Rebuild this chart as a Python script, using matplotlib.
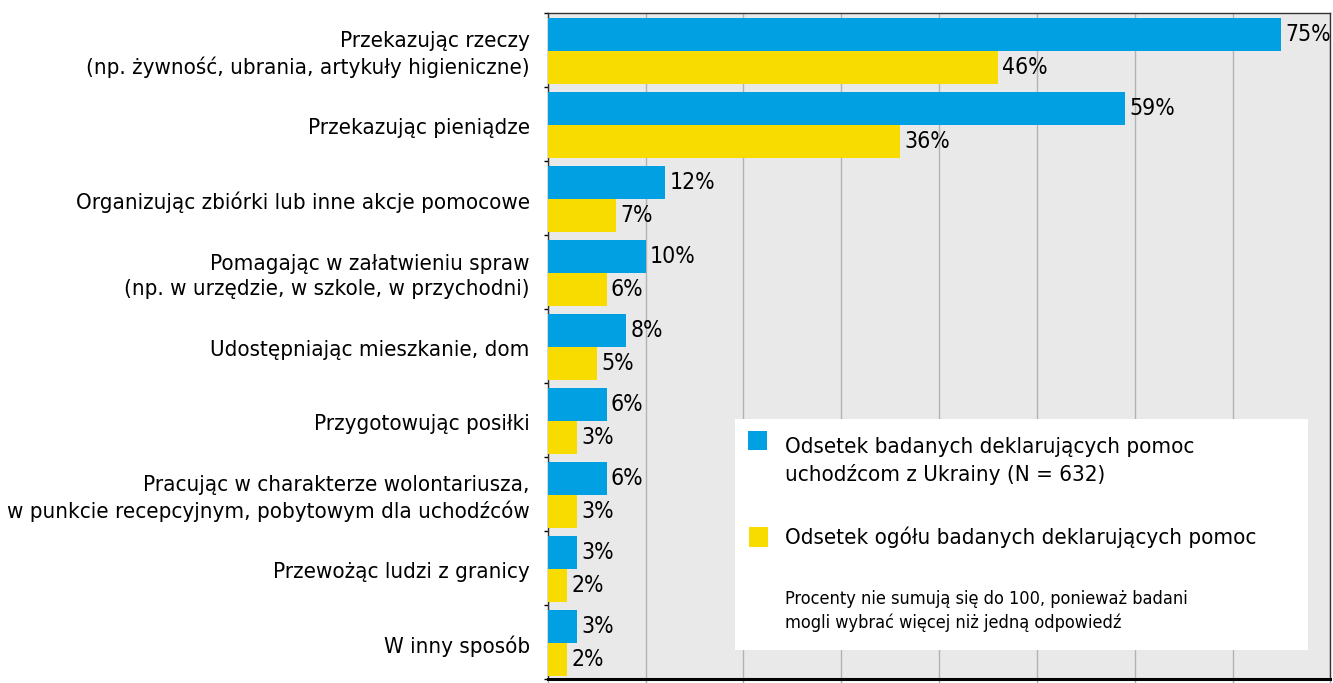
import matplotlib

matplotlib.use("Agg")
import matplotlib.pyplot as plt
from matplotlib.patches import Rectangle
from matplotlib.transforms import blended_transform_factory

plt.rcParams["font.family"] = ["DejaVu Sans"]
plt.rcParams["font.stretch"] = "condensed"

categories = [
    "Przekazując rzeczy\n(np. żywność, ubrania, artykuły higieniczne)",
    "Przekazując pieniądze",
    "Organizując zbiórki lub inne akcje pomocowe",
    "Pomagając w załatwieniu spraw\n(np. w urzędzie, w szkole, w przychodni)",
    "Udostępniając mieszkanie, dom",
    "Przygotowując posiłki",
    "Pracując w charakterze wolontariusza,\nw punkcie recepcyjnym, pobytowym dla uchodźców",
    "Przewożąc ludzi z granicy",
    "W inny sposób",
]
ukraine_helpers = [75, 59, 12, 10, 8, 6, 6, 3, 3]
all_respondents = [46, 36, 7, 6, 5, 3, 3, 2, 2]

legend_labels = [
    "Odsetek badanych deklarujących pomoc\nuchodźcom z Ukrainy (N = 632)",
    "Odsetek ogółu badanych deklarujących pomoc",
]
note = "Procenty nie sumują się do 100, ponieważ badani\nmogli wybrać więcej niż jedną odpowiedź"

BLUE = "#00a0e2"
YELLOW = "#f8dc00"

fig = plt.figure(figsize=(13.33, 6.83), dpi=100)
ax = fig.add_axes([0.411, 0.006, 0.587, 0.975])
ax.set_facecolor("#e9e9e9")

ys = range(len(categories))
h = 0.445
blue_y = [y - 0.21 for y in ys]
yel_y = [y + 0.235 for y in ys]
b1 = ax.barh(blue_y, ukraine_helpers, height=h, color=BLUE, zorder=3)
b2 = ax.barh(yel_y, all_respondents, height=h, color=YELLOW, zorder=3)
ax.bar_label(b1, labels=[f"{v}%" for v in ukraine_helpers], padding=3, fontsize=16.5)
ax.bar_label(b2, labels=[f"{v}%" for v in all_respondents], padding=3, fontsize=16.5)

ax.set_xlim(0, 80)
ax.set_ylim(len(categories) - 0.5, -0.5)
ax.set_xticks(range(0, 81, 10))
ax.set_xticklabels([])
ax.set_yticks([y - 0.5 for y in range(len(categories) + 1)])
ax.set_yticklabels([])
ax.tick_params(axis="y", length=3, width=1, color="black")
ax.tick_params(axis="x", length=4, width=1, color="#aaaaaa")
ax.grid(axis="x", color="#b3b3b3", linewidth=1, zorder=1)

for side in ("top", "right", "left"):
    ax.spines[side].set_color("#333333")
    ax.spines[side].set_linewidth(1)
ax.spines["bottom"].set_linewidth(2.2)
ax.spines["bottom"].set_color("black")

trans = blended_transform_factory(ax.transAxes, ax.transData)
for y, lab in zip(ys, categories):
    ax.text(-0.023, y + 0.06, lab, transform=trans, ha="right", va="center",
            fontsize=16, linespacing=1.3)

# legend box drawn by hand
ax.add_patch(Rectangle((0.239, 0.043), 0.732, 0.348, transform=ax.transAxes,
                       facecolor="white", edgecolor="none", zorder=4))
ax.add_patch(Rectangle((0.256, 0.343), 0.024, 0.030, transform=ax.transAxes,
                       facecolor=BLUE, edgecolor="none", zorder=5))
ax.add_patch(Rectangle((0.257, 0.198), 0.024, 0.030, transform=ax.transAxes,
                       facecolor=YELLOW, edgecolor="none", zorder=5))
ax.text(0.303, 0.363, legend_labels[0], transform=ax.transAxes, ha="left", va="top",
        fontsize=16, linespacing=1.4, zorder=6)
ax.text(0.303, 0.213, legend_labels[1], transform=ax.transAxes, ha="left", va="center",
        fontsize=16, zorder=6)
ax.text(0.303, 0.133, note, transform=ax.transAxes, ha="left", va="top",
        fontsize=13, linespacing=1.35, zorder=6)

fig.savefig("out.png", dpi=100)
